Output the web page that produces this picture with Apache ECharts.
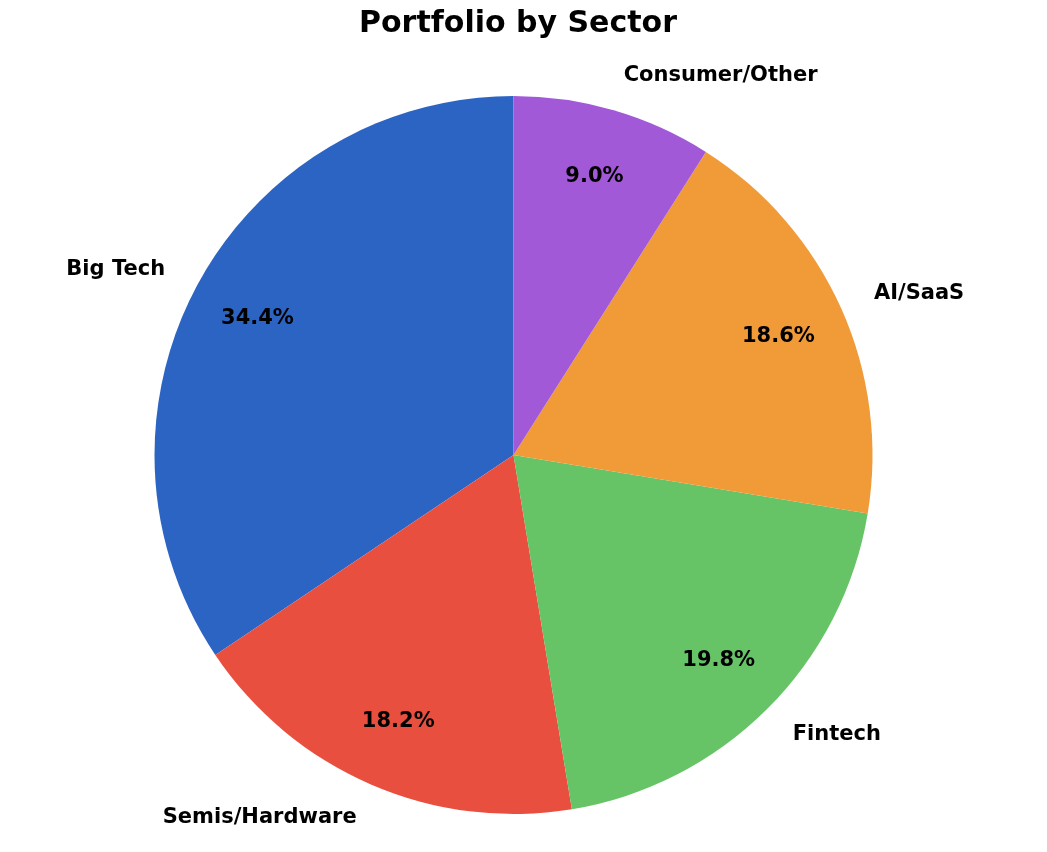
<!DOCTYPE html>
<html>
<head>
<meta charset="utf-8">
<script src="https://cdn.jsdelivr.net/npm/echarts@6/dist/echarts.min.js"></script>
<style>
  html, body { margin: 0; padding: 0; background: #fff; }
  #chart { width: 1047px; height: 852px; }
</style>
</head>
<body>
<div id="chart"></div>
<script>
const sectors = ['Big Tech', 'Semis/Hardware', 'Fintech', 'AI/SaaS', 'Consumer/Other'];
const shares = [34.4, 18.2, 19.8, 18.6, 9.0];
const colors = ['#2c64c4', '#e94f3f', '#66c467', '#f09a38', '#a259d8'];

const R = 359;
const center = [513.5, 455];
const font = 'DejaVu Sans';

const data = sectors.map((name, i) => ({
  name: name,
  value: shares[i],
  itemStyle: { color: colors[i] }
}));

const chart = echarts.init(document.getElementById('chart'));
chart.setOption({
  animation: false,
  title: {
    text: 'Portfolio by Sector',
    left: 513,
    textAlign: 'center',
    top: 4,
    textStyle: { fontFamily: font, fontWeight: 'bold', fontSize: 30, color: '#000' }
  },
  series: [
    {
      // the slices, with the names outside
      type: 'pie',
      center: center,
      radius: [0, R],
      startAngle: 90,
      clockwise: false,
      avoidLabelOverlap: false,
      silent: true,
      itemStyle: { borderWidth: 0 },
      label: {
        show: true,
        position: 'outside',
        distanceToLabelLine: 0,
        fontFamily: font,
        fontWeight: 'bold',
        fontSize: 21,
        color: '#000',
        formatter: '{b}'
      },
      labelLine: { show: false, length: R * 0.1, length2: 0 },
      data: data
    },
    {
      // invisible ring that only carries the percent labels at 0.8 R
      type: 'pie',
      center: center,
      radius: [R * 0.7, R * 0.9],
      startAngle: 90,
      clockwise: false,
      avoidLabelOverlap: false,
      silent: true,
      itemStyle: { color: 'rgba(0,0,0,0)', borderWidth: 0 },
      label: {
        show: true,
        position: 'inside',
        fontFamily: font,
        fontWeight: 'bold',
        fontSize: 21,
        color: '#000',
        formatter: p => p.value.toFixed(1) + '%'
      },
      labelLine: { show: false },
      data: sectors.map((name, i) => ({ name: name, value: shares[i] }))
    }
  ]
});
</script>
</body>
</html>
